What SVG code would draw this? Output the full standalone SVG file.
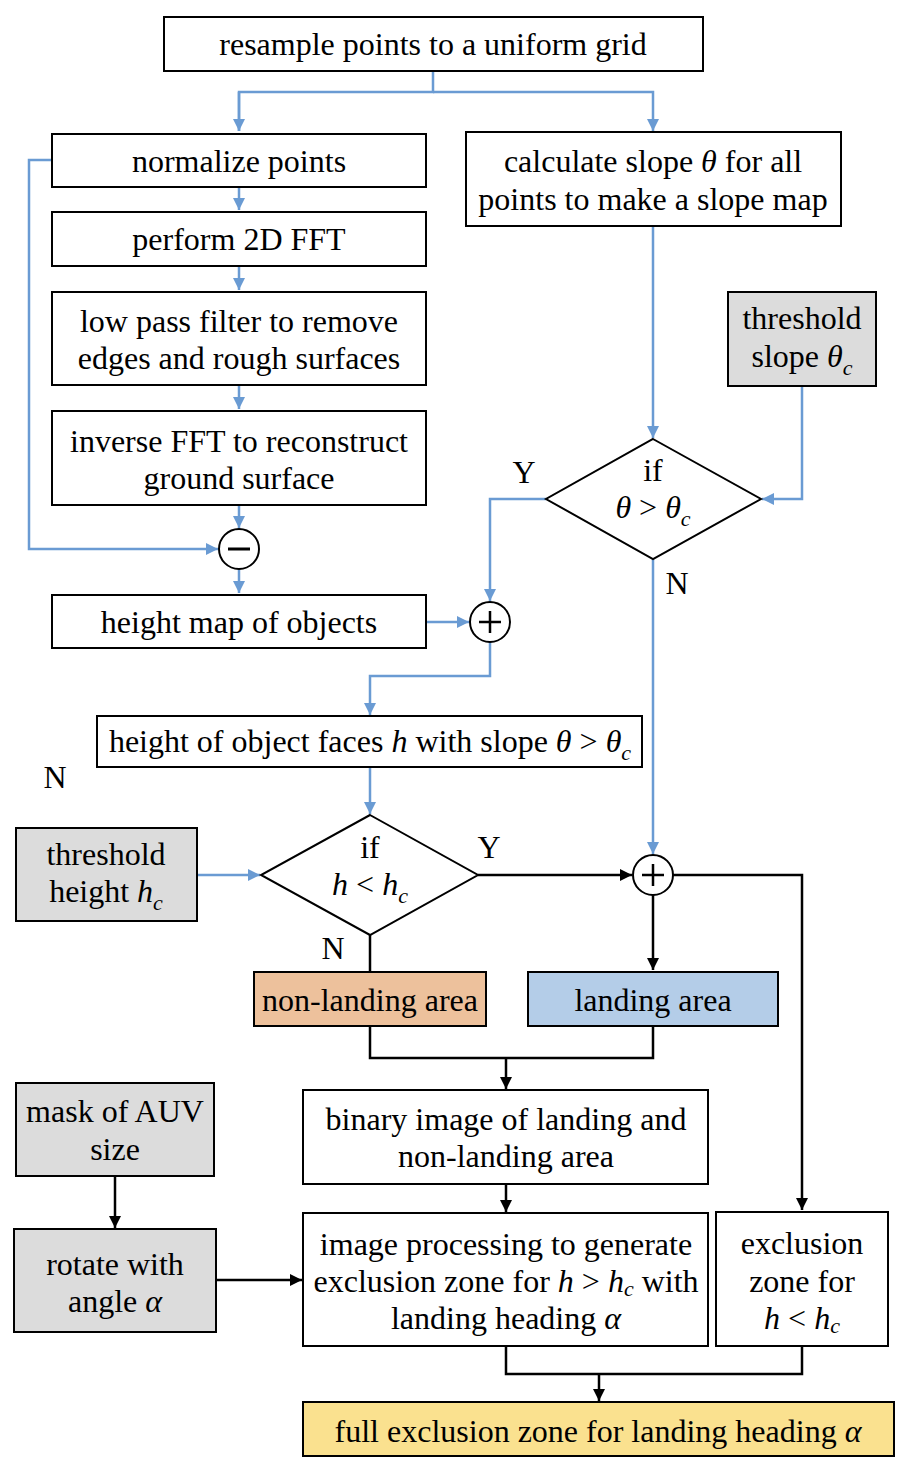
<svg xmlns="http://www.w3.org/2000/svg" width="912" height="1474" viewBox="0 0 912 1474">
<style>
text{font-size:32px;fill:#000;text-anchor:middle}
.i{font-style:italic}
.s{font-style:italic;font-size:22px}
.box{fill:#fff;stroke:#000;stroke-width:2}
.gray{fill:#dcdcdc}
.b{fill:none;stroke:#6a9bd3;stroke-width:2.5}
.k{fill:none;stroke:#000;stroke-width:2.5}
.ba{marker-end:url(#ab)}
.ka{marker-end:url(#ak)}
</style>
<defs>
<marker id="ab" markerUnits="userSpaceOnUse" markerWidth="14" markerHeight="12" refX="12" refY="6" orient="auto"><path d="M0,0L12,6L0,12z" fill="#6a9bd3"/></marker>
<marker id="ak" markerUnits="userSpaceOnUse" markerWidth="14" markerHeight="12" refX="12" refY="6" orient="auto"><path d="M0,0L12,6L0,12z" fill="#000"/></marker>
</defs>
<rect width="912" height="1474" fill="#fff"/>
<g id="connectors">
<path class="b" d="M433,71V92H239V131"/>
<path class="b ba" d="M239,92V131"/>
<path class="b ba" d="M433,92H653V131"/>
<path class="b ba" d="M239,187V210"/>
<path class="b ba" d="M239,266V290"/>
<path class="b ba" d="M239,385V409"/>
<path class="b ba" d="M239,505V528"/>
<path class="b ba" d="M52,160H29V549H218"/>
<path class="b ba" d="M239,569V593"/>
<path class="b ba" d="M426,622H469"/>
<path class="b ba" d="M546,499H490V601"/>
<path class="b ba" d="M653,226V438"/>
<path class="b ba" d="M802,386V499H762"/>
<path class="b ba" d="M490,642V676H370V715"/>
<path class="b ba" d="M653,559V854"/>
<path class="b ba" d="M370,767V814"/>
<path class="b ba" d="M197,875H260"/>
<path class="k ka" d="M478,875H632"/>
<path class="k ka" d="M673,875H802V1210"/>
<path class="k ka" d="M653,895V970"/>
<path class="k" d="M370,935V972"/>
<path class="k" d="M370,1026V1058H653V1026"/>
<path class="k ka" d="M506,1058V1089"/>
<path class="k ka" d="M506,1184V1212"/>
<path class="k ka" d="M115,1176V1228"/>
<path class="k ka" d="M216,1280H302"/>
<path class="k" d="M506,1346V1374H802V1346"/>
<path class="k ka" d="M599,1374V1401"/>
</g>
<g id="resample"><rect class="box" x="164" y="17" width="539" height="54"/><text font-family="'Liberation Serif', serif" x="433" y="55">resample points to a uniform grid</text></g>
<g id="normalize"><rect class="box" x="52" y="134" width="374" height="53"/><text font-family="'Liberation Serif', serif" x="239" y="172">normalize points</text></g>
<g id="fft"><rect class="box" x="52" y="212" width="374" height="54"/><text font-family="'Liberation Serif', serif" x="239" y="250">perform 2D FFT</text></g>
<g id="lowpass"><rect class="box" x="52" y="292" width="374" height="93"/><text font-family="'Liberation Serif', serif" x="239" y="332">low pass filter to remove</text><text font-family="'Liberation Serif', serif" x="239" y="369">edges and rough surfaces</text></g>
<g id="ifft"><rect class="box" x="52" y="411" width="374" height="94"/><text font-family="'Liberation Serif', serif" x="239" y="452">inverse FFT to reconstruct</text><text font-family="'Liberation Serif', serif" x="239" y="489">ground surface</text></g>
<g id="minus"><circle cx="239" cy="549" r="20" fill="#fff" stroke="#000" stroke-width="2"/><path d="M228,549H250" stroke="#000" stroke-width="3"/></g>
<g id="heightmap"><rect class="box" x="52" y="595" width="374" height="53"/><text font-family="'Liberation Serif', serif" x="239" y="633">height map of objects</text></g>
<g id="plus1"><circle cx="490" cy="622" r="20" fill="#fff" stroke="#000" stroke-width="2"/><path d="M479,622H501M490,611V633" stroke="#000" stroke-width="2.5"/></g>
<g id="slope"><rect class="box" x="466" y="132" width="375" height="94"/><text font-family="'Liberation Serif', serif" x="653" y="172">calculate slope <tspan class="i">θ</tspan> for all</text><text font-family="'Liberation Serif', serif" x="653" y="210">points to make a slope map</text></g>
<g id="thslope"><rect class="box gray" x="728" y="292" width="148" height="94"/><text font-family="'Liberation Serif', serif" x="802" y="329">threshold</text><text font-family="'Liberation Serif', serif" x="802" y="367">slope <tspan class="i">θ</tspan><tspan class="s" dy="8">c</tspan></text></g>
<g id="dec1"><path d="M653,439L761,499L653,559L546,499z" fill="#fff" stroke="#000" stroke-width="2"/><text font-family="'Liberation Serif', serif" x="653" y="481">if</text><text font-family="'Liberation Serif', serif" x="653" y="518"><tspan class="i">θ</tspan> &gt; <tspan class="i">θ</tspan><tspan class="s" dy="8">c</tspan></text></g>
<g id="labels"><text font-family="'Liberation Serif', serif" x="524" y="483">Y</text><text font-family="'Liberation Serif', serif" x="677" y="594">N</text><text font-family="'Liberation Serif', serif" x="55" y="788">N</text><text font-family="'Liberation Serif', serif" x="489" y="858">Y</text><text font-family="'Liberation Serif', serif" x="333" y="959">N</text></g>
<g id="faces"><rect class="box" x="97" y="716" width="545" height="51"/><text font-family="'Liberation Serif', serif" x="370" y="752">height of object faces <tspan class="i">h</tspan> with slope <tspan class="i">θ</tspan> &gt; <tspan class="i">θ</tspan><tspan class="s" dy="8">c</tspan></text></g>
<g id="thheight"><rect class="box gray" x="16" y="828" width="181" height="93"/><text font-family="'Liberation Serif', serif" x="106" y="865">threshold</text><text font-family="'Liberation Serif', serif" x="106" y="902">height <tspan class="i">h</tspan><tspan class="s" dy="8">c</tspan></text></g>
<g id="dec2"><path d="M370,815L478,875L370,935L261,875z" fill="#fff" stroke="#000" stroke-width="2"/><text font-family="'Liberation Serif', serif" x="370" y="858">if</text><text font-family="'Liberation Serif', serif" x="370" y="895"><tspan class="i">h</tspan> &lt; <tspan class="i">h</tspan><tspan class="s" dy="8">c</tspan></text></g>
<g id="plus2"><circle cx="653" cy="875" r="20" fill="#fff" stroke="#000" stroke-width="2"/><path d="M642,875H664M653,864V886" stroke="#000" stroke-width="2.5"/></g>
<g id="nonlanding"><rect class="box" style="fill:#edc19c" x="254" y="972" width="232" height="54"/><text font-family="'Liberation Serif', serif" x="370" y="1011">non-landing area</text></g>
<g id="landing"><rect class="box" style="fill:#b4cde8" x="528" y="972" width="250" height="54"/><text font-family="'Liberation Serif', serif" x="653" y="1011">landing area</text></g>
<g id="binary"><rect class="box" x="303" y="1090" width="405" height="94"/><text font-family="'Liberation Serif', serif" x="506" y="1130">binary image of landing and</text><text font-family="'Liberation Serif', serif" x="506" y="1167">non-landing area</text></g>
<g id="mask"><rect class="box gray" x="16" y="1083" width="198" height="93"/><text font-family="'Liberation Serif', serif" x="115" y="1122">mask of AUV</text><text font-family="'Liberation Serif', serif" x="115" y="1160">size</text></g>
<g id="rotate"><rect class="box gray" x="14" y="1229" width="202" height="103"/><text font-family="'Liberation Serif', serif" x="115" y="1275">rotate with</text><text font-family="'Liberation Serif', serif" x="115" y="1312">angle <tspan class="i">α</tspan></text></g>
<g id="imgproc"><rect class="box" x="303" y="1213" width="405" height="133"/><text font-family="'Liberation Serif', serif" x="506" y="1255">image processing to generate</text><text font-family="'Liberation Serif', serif" x="506" y="1292">exclusion zone for <tspan class="i">h</tspan> &gt; <tspan class="i">h</tspan><tspan class="s" dy="4">c</tspan><tspan dy="-4"> with</tspan></text><text font-family="'Liberation Serif', serif" x="506" y="1329">landing heading <tspan class="i">α</tspan></text></g>
<g id="exclusion"><rect class="box" x="716" y="1212" width="172" height="134"/><text font-family="'Liberation Serif', serif" x="802" y="1254">exclusion</text><text font-family="'Liberation Serif', serif" x="802" y="1292">zone for</text><text font-family="'Liberation Serif', serif" x="802" y="1329"><tspan class="i">h</tspan> &lt; <tspan class="i">h</tspan><tspan class="s" dy="4">c</tspan></text></g>
<g id="full"><rect class="box" style="fill:#fae18f" x="303" y="1402" width="591" height="54"/><text font-family="'Liberation Serif', serif" x="598" y="1442">full exclusion zone for landing heading <tspan class="i">α</tspan></text></g>
</svg>
